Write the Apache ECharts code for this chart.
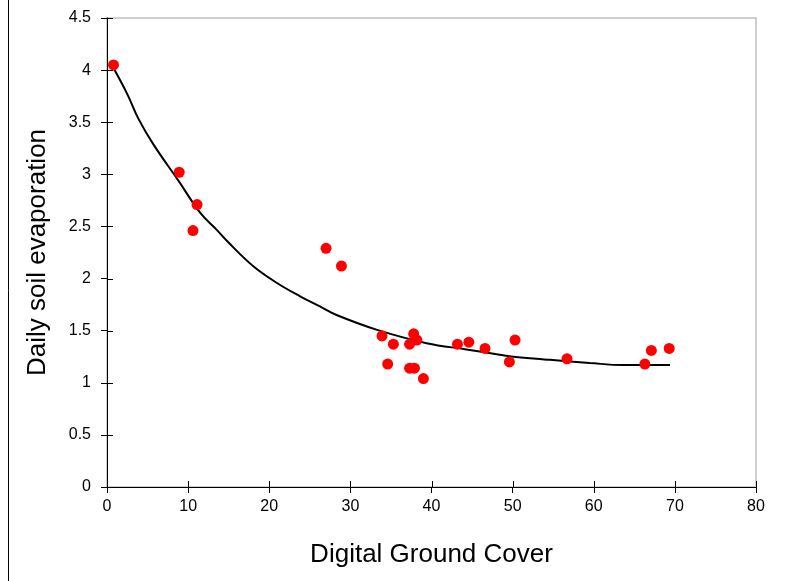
<!DOCTYPE html>
<html>
<head>
<meta charset="utf-8">
<script src="https://cdn.jsdelivr.net/npm/echarts@6/dist/echarts.min.js"></script>
<style>
  html, body { margin: 0; padding: 0; background: #fff; }
  #chart { width: 787px; height: 581px; }
</style>
</head>
<body>
<div id="chart"></div>
<script>
// 观测点 (cover %, evaporation)
const coverObs = [0.8, 8.9, 11.1, 10.6, 27.0, 28.9, 33.9, 35.3, 37.8, 37.3, 38.2, 34.6, 37.3, 37.9, 39.0, 43.2, 44.6, 46.6, 49.6, 50.3, 56.7, 66.3, 67.1, 69.3];
const evapObs = [4.05, 3.02, 2.71, 2.46, 2.29, 2.12, 1.45, 1.37, 1.47, 1.37, 1.41, 1.18, 1.14, 1.14, 1.04, 1.37, 1.39, 1.33, 1.20, 1.41, 1.23, 1.18, 1.31, 1.33];

// 拟合曲线
const coverFit = [0.8, 2.5, 3.9, 5.7, 8.8, 11.5, 13.5, 14.8, 18.0, 20.9, 23.8, 26.3, 28.3, 33.2, 39.4, 44.3, 48.4, 50.1, 52.9, 54.6, 59.5, 63.6, 69.4];
const evapFit = [4.02, 3.77, 3.53, 3.29, 2.94, 2.63, 2.47, 2.36, 2.12, 1.96, 1.83, 1.73, 1.65, 1.51, 1.38, 1.32, 1.27, 1.25, 1.23, 1.22, 1.19, 1.17, 1.17];

const xTicks = [0, 10, 20, 30, 40, 50, 60, 70, 80];
const yTicks = [0, 0.5, 1, 1.5, 2, 2.5, 3, 3.5, 4, 4.5];

const font = 'Liberation Sans, Arial, sans-serif';

let myChart = echarts.init(document.getElementById('chart'));

let option = {
  backgroundColor: '#fff',
  animation: false,
  grid: {
    left: 107, right: 31, top: 18, bottom: 94,
    show: true, borderColor: '#c0c0c0', borderWidth: 1.5, backgroundColor: 'transparent'
  },
  xAxis: {
    type: 'value',
    min: xTicks[0],
    max: xTicks[xTicks.length - 1],
    interval: 10,
    splitLine: { show: false },
    axisLine: { show: true, onZero: false, lineStyle: { color: '#000', width: 1 } },
    axisTick: { show: true, length: 6, lineStyle: { color: '#000', width: 1 } },
    name: 'Digital Ground Cover',
    nameLocation: 'middle',
    nameGap: 55,
    nameTextStyle: { fontSize: 26, color: '#000', fontFamily: font },
    axisLabel: { fontSize: 16, color: '#000', margin: 12, fontFamily: font }
  },
  yAxis: {
    type: 'value',
    min: yTicks[0],
    max: yTicks[yTicks.length - 1],
    interval: 0.5,
    splitLine: { show: false },
    axisLine: { show: true, onZero: false, lineStyle: { color: '#000', width: 1 } },
    axisTick: { show: true, length: 6, lineStyle: { color: '#000', width: 1 } },
    name: 'Daily soil evaporation',
    nameLocation: 'middle',
    nameGap: 56,
    nameTextStyle: { fontSize: 26, color: '#000', fontFamily: font },
    axisLabel: { fontSize: 16, color: '#000', margin: 16, fontFamily: font }
  },
  series: [
    {
      name: 'fit',
      type: 'line',
      data: coverFit.map((x, i) => [x, evapFit[i]]),
      smooth: 0.4,
      showSymbol: false,
      lineStyle: { color: '#000', width: 2 },
      z: 2
    },
    {
      name: 'obs',
      type: 'scatter',
      data: coverObs.map((x, i) => [x, evapObs[i]]),
      symbol: 'circle',
      symbolSize: 11,
      itemStyle: { color: '#ff0000', opacity: 1 },
      z: 3
    }
  ]
};

myChart.setOption(option);

// 刻度朝内的那一半：用图表自己的坐标换算出位置，再画短线
function drawInnerTicks() {
  let g = [
    { type: 'line', id: 'frame', shape: { x1: 8.5, y1: 0, x2: 8.5, y2: 581 }, style: { stroke: '#000', lineWidth: 1 } }
  ];
  xTicks.forEach((v, i) => {
    let p = myChart.convertToPixel({ gridIndex: 0 }, [v, yTicks[0]]);
    let x = Math.round(p[0]) + 0.5;
    g.push({ type: 'line', id: 'xt' + i, z: 10, shape: { x1: x, y1: p[1], x2: x, y2: p[1] - 6 }, style: { stroke: '#000', lineWidth: 1 } });
  });
  yTicks.forEach((v, i) => {
    let p = myChart.convertToPixel({ gridIndex: 0 }, [xTicks[0], v]);
    let y = Math.round(p[1]) + 0.5;
    g.push({ type: 'line', id: 'yt' + i, z: 10, shape: { x1: p[0], y1: y, x2: p[0] + 6, y2: y }, style: { stroke: '#000', lineWidth: 1 } });
  });
  myChart.setOption({ graphic: g });
}
drawInnerTicks();

window.addEventListener('resize', function () {
  myChart.resize();
  drawInnerTicks();
});
</script>
</body>
</html>
